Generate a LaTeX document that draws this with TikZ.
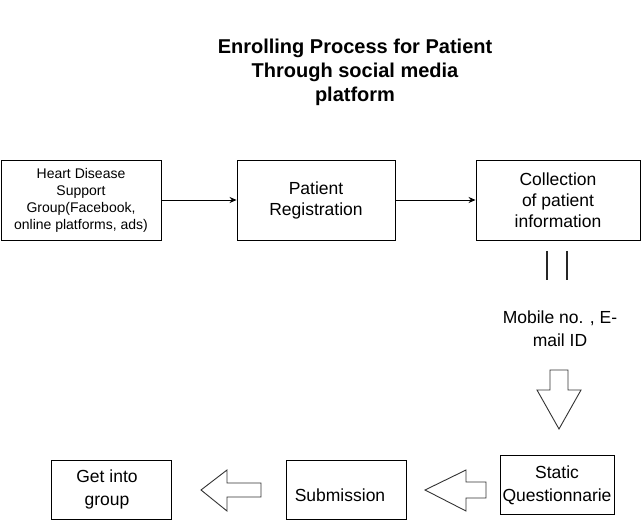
\documentclass[tikz,border=0pt]{standalone}
\usepackage{fontspec}
\setmainfont{Liberation Sans}
\usetikzlibrary{arrows.meta}
\begin{document}
\begin{tikzpicture}[x=1pt,y=-1pt,
  box/.style={draw=black, line width=0.9pt, inner sep=0pt, align=center, font=\fontsize{17.5}{21}\selectfont},
  conn/.style={line width=0.9pt, -{Stealth[length=7pt,width=6pt]}},
  blockarrow/.style={draw=black!80, line width=0.9pt, fill=white, line join=miter},
  bar/.style={line width=1.4pt, draw=black!85}
]
\useasboundingbox (0,0) rectangle (642,521);

\node[align=center, font=\fontsize{20}{24}\selectfont\bfseries] (title) at (355,72)
  {Enrolling Process for Patient\\Through social media\\platform};

\node[box, minimum width=160pt, minimum height=80pt, font=\fontsize{14}{17}\selectfont] (hd) at (81,200)
  {Heart Disease\\Support\\Group(Facebook,\\online platforms, ads)};
\node[box, minimum width=158pt, minimum height=80pt] (reg) at (316,200) {Patient\\Registration};
\node[box, minimum width=164pt, minimum height=80pt] (col) at (558,200) {Collection\\of patient\\information};

\draw[conn] (hd.east) -- (reg.west);
\draw[conn] (reg.east) -- (col.west);

\coordinate (b1t) at (547,251);
\coordinate (b1b) at (547,280);
\coordinate (b2t) at (567,251);
\coordinate (b2b) at (567,280);
\draw[bar] (b1t) -- (b1b);
\draw[bar] (b2t) -- (b2b);

\node[align=center, font=\fontsize{17.5}{23}\selectfont] (mob) at (560,329) {Mobile no. , E-\\mail ID};

% down block arrow
\draw[blockarrow] (550,370) -- (568,370) -- (568,390) -- (581,390) -- (559,429) -- (537,390) -- (550,390) -- cycle;

\node[box, minimum width=114pt, minimum height=59pt] (sq) at (557,485) {};
\node[font=\fontsize{17.5}{23}\selectfont, align=center] (sqt) at (557,485) {Static\\Questionnarie};

% left block arrow 2
\draw[blockarrow] (486,482) -- (486,498) -- (466,498) -- (466,511) -- (425,490) -- (466,470) -- (466,482) -- cycle;

\node[box, minimum width=120pt, minimum height=59pt] (sub) at (346,489.5) {};
\node[font=\fontsize{17.5}{21}\selectfont] (subt) at (340,495) {Submission};

% left block arrow 1
\draw[blockarrow] (261,483) -- (261,497) -- (227,497) -- (227,511) -- (201,490) -- (227,470) -- (227,483) -- cycle;

\node[box, minimum width=120pt, minimum height=59pt] (grp) at (111,489.5) {};
\node[font=\fontsize{17.5}{23}\selectfont, align=center] (grpt) at (107,489.5) {Get into\\group};
\end{tikzpicture}
\end{document}
